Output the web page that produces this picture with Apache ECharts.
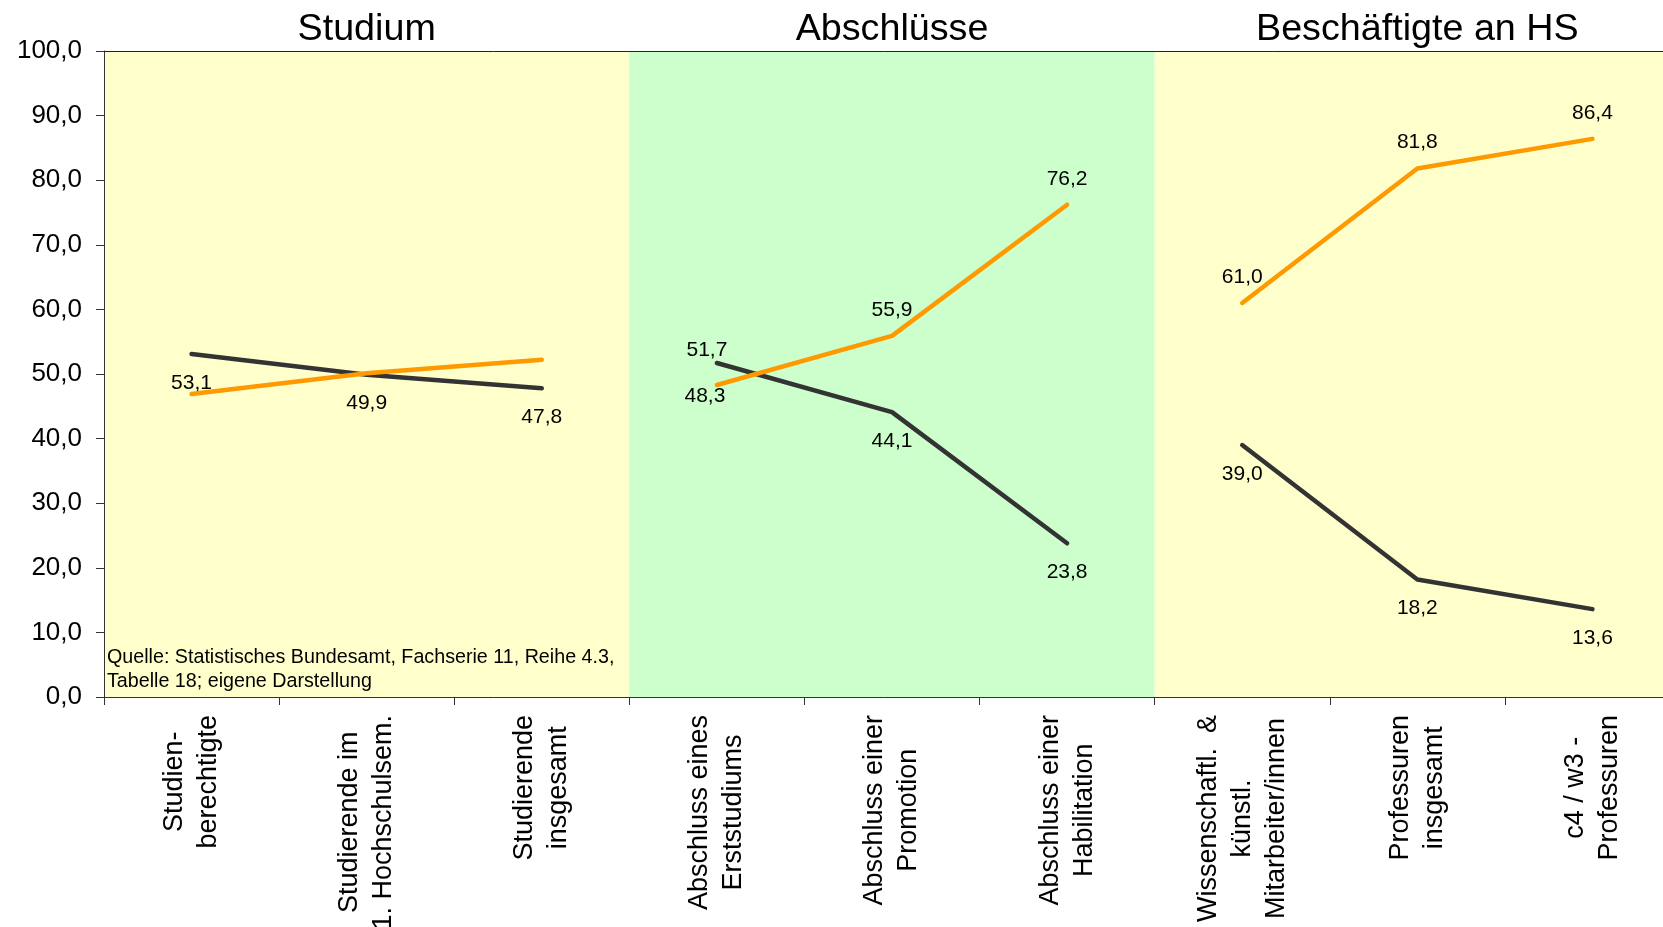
<!DOCTYPE html>
<html>
<head>
<meta charset="utf-8">
<script src="https://cdn.jsdelivr.net/npm/echarts@6/dist/echarts.min.js"></script>
<style>
html,body{margin:0;padding:0;background:#ffffff;}
#chart{width:1663px;height:927px;}
</style>
</head>
<body>
<div id="chart"></div>
<script>
// ---- data ----
const categories = [
  'Studien-\nberechtigte',
  'Studierende im\n1. Hochschulsem.',
  'Studierende\ninsgesamt',
  'Abschluss eines\nErststudiums',
  'Abschluss einer\nPromotion',
  'Abschluss einer\nHabilitation',
  'Wissenschaftl.  &\nkünstl.\nMitarbeiter/innen',
  'Professuren\ninsgesamt',
  'c4 / w3 -\nProfessuren'
];
const panelTitles = ['Studium', 'Abschlüsse', 'Beschäftigte an HS'];
const panelStart = [0, 3, 6];
const panelEnd = [3, 6, 9];
const frauenValues = [53.1, 49.9, 47.8, 51.7, 44.1, 23.8, 39.0, 18.2, 13.6];
const maennerValues = [46.9, 50.1, 52.2, 48.3, 55.9, 76.2, 61.0, 81.8, 86.4];
const yTicks = [0, 10, 20, 30, 40, 50, 60, 70, 80, 90, 100];
const sourceText = 'Quelle: Statistisches Bundesamt, Fachserie 11, Reihe 4.3,\nTabelle 18; eigene Darstellung';

// ---- styling ----
const FONT = "'Liberation Sans', Arial, Helvetica, sans-serif";
const panelColors = ['#FFFFCC', '#CCFFCC', '#FFFFCC'];
const BLACK = '#333333';
const ORANGE = '#FF9900';
const fmt = v => Number(v).toFixed(1).replace('.', ',');

const chart = echarts.init(document.getElementById('chart'), null, {renderer: 'canvas'});

function labelFor(kind, i) {
  const base = {show: true, fontSize: 21, fontFamily: FONT, color: '#000', formatter: p => fmt(p.value)};
  if (kind === 'f') {
    if (i === 3) return Object.assign(base, {position: 'top', distance: 15, offset: [-10, 13]});
    return Object.assign(base, {position: 'bottom', distance: 18});
  } else {
    if (i < 3) return {show: false};
    if (i === 3) return Object.assign(base, {position: 'bottom', distance: 15, offset: [-12, -15]});
    return Object.assign(base, {position: 'top', distance: 15});
  }
}

const lineSeries = [];
['f', 'm'].forEach(kind => {
  const vals = kind === 'f' ? frauenValues : maennerValues;
  const color = kind === 'f' ? BLACK : ORANGE;
  panelStart.forEach((s, p) => {
    lineSeries.push({
      type: 'line',
      name: (kind === 'f' ? 'Frauen' : 'Männer') + ' ' + panelTitles[p],
      xAxisIndex: 0,
      yAxisIndex: 0,
      z: kind === 'f' ? 3 : 4,
      silent: true,
      symbol: 'circle',
      symbolSize: 1,
      showSymbol: true,
      connectNulls: false,
      itemStyle: {color: color},
      lineStyle: {color: color, width: 4.5, cap: 'round', join: 'round'},
      data: vals.map((v, i) => (i >= s && i < panelEnd[p]) ? {value: v, label: labelFor(kind, i)} : '-')
    });
  });
});

const option = {
  animation: false,
  backgroundColor: '#ffffff',
  grid: {left: 104, top: 51, width: 1576, height: 646, containLabel: false, outerBoundsMode: 'none', show: false},
  xAxis: [
    {
      type: 'category',
      position: 'bottom',
      data: categories,
      boundaryGap: true,
      axisLine: {show: true, lineStyle: {color: '#333', width: 1}},
      axisTick: {show: true, length: 8, interval: 0, lineStyle: {color: '#333'}},
      splitLine: {show: false},
      axisLabel: {
        interval: 0,
        rotate: 90,
        margin: 18,
        color: '#000',
        fontFamily: FONT,
        fontSize: 27,
        lineHeight: 34,
        formatter: v => v.split('\n').map(s => '{c|' + s + '}').join('\n'),
        rich: {
          c: {align: 'center', fontSize: 27, lineHeight: 34, fontFamily: FONT, color: '#000'}
        }
      }
    },
    {
      type: 'value',
      position: 'bottom',
      min: 0,
      max: 9,
      show: false
    },
    {
      type: 'category',
      position: 'top',
      data: panelTitles,
      boundaryGap: true,
      axisLine: {show: true, lineStyle: {color: '#222', width: 1}},
      axisTick: {show: false},
      splitLine: {show: false},
      axisLabel: {interval: 0, margin: 3, color: '#000', fontFamily: FONT, fontSize: 37.7, lineHeight: 37}
    }
  ],
  yAxis: [{
    type: 'value',
    min: yTicks[0],
    max: yTicks[yTicks.length - 1],
    interval: yTicks[1] - yTicks[0],
    axisLine: {show: true, lineStyle: {color: '#333', width: 1}},
    axisTick: {show: true, length: 8, inside: false, lineStyle: {color: '#333'}},
    splitLine: {show: false},
    axisLabel: {margin: 22, color: '#000', fontFamily: FONT, fontSize: 26, formatter: v => fmt(v)}
  }],
  graphic: [{
    type: 'text',
    left: 107,
    top: 646,
    silent: true,
    z: 10,
    style: {text: sourceText, fill: '#000', font: '19.7px ' + FONT, lineHeight: 24}
  }],
  series: [
    {
      type: 'custom',
      name: 'bands',
      xAxisIndex: 1,
      yAxisIndex: 0,
      z: -1,
      silent: true,
      encode: {x: [0, 1], y: 2},
      data: panelStart.map((s, i) => [s, panelEnd[i], i]),
      renderItem: (params, api) => {
        const p0 = api.coord([api.value(0), yTicks[yTicks.length - 1]]);
        const p1 = api.coord([api.value(1), yTicks[0]]);
        return {
          type: 'rect',
          shape: {x: p0[0], y: p0[1], width: p1[0] - p0[0], height: p1[1] - p0[1]},
          style: {fill: panelColors[api.value(2)]}
        };
      }
    }
  ].concat(lineSeries)
};
chart.setOption(option);
</script>
</body>
</html>
